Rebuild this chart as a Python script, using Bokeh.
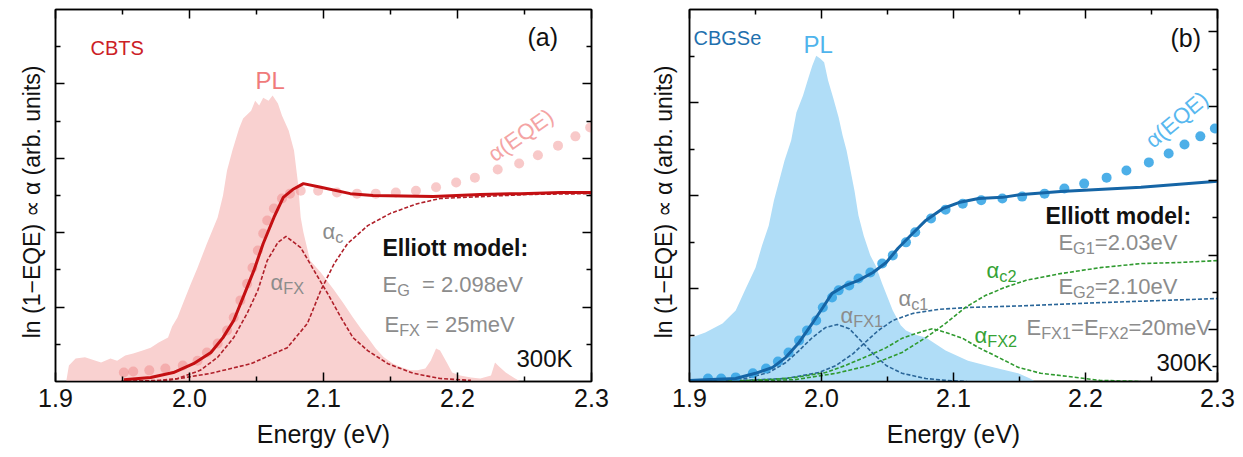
import math
from bokeh.plotting import figure
from bokeh.layouts import row
from bokeh.models import Range1d, LinearAxis, FixedTicker, PrintfTickFormatter, Label, Grid
from bokeh.embed import file_html
from bokeh.resources import INLINE

# ---------------- data: panel (a) CBTS ----------------
pl_a_E = [1.908, 1.910, 1.915, 1.922, 1.934, 1.941, 1.946, 1.952, 1.958, 1.965,
          1.971, 1.977, 1.984, 1.987, 1.991, 1.996, 2.001, 2.006, 2.013, 2.017,
          2.021, 2.025, 2.028, 2.032, 2.037, 2.040, 2.046, 2.049, 2.052, 2.055,
          2.059, 2.062, 2.066, 2.069, 2.074, 2.078, 2.081, 2.083, 2.085, 2.090,
          2.098, 2.108, 2.115, 2.122, 2.128, 2.133, 2.139, 2.145, 2.152, 2.158,
          2.165, 2.170, 2.176, 2.180, 2.184, 2.187, 2.192, 2.196, 2.202, 2.210,
          2.217, 2.225, 2.228, 2.231, 2.236, 2.243, 2.247]
pl_a_I = [0.00, 0.43, 0.62, 0.65, 0.51, 0.62, 0.56, 0.70, 0.75, 0.83,
          0.91, 1.05, 1.18, 1.48, 1.72, 2.18, 2.63, 3.06, 3.71, 4.06,
          4.41, 5.00, 5.67, 6.21, 6.80, 7.07, 7.28, 7.55, 7.42, 7.63,
          7.55, 7.69, 7.47, 7.15, 6.75, 6.21, 5.32, 4.41, 4.01, 3.25,
          2.93, 2.45, 2.10, 1.72, 1.42, 1.18, 0.89, 0.65, 0.48, 0.38,
          0.30, 0.30, 0.35, 0.56, 0.89, 0.83, 0.51, 0.24, 0.16, 0.11,
          0.08, 0.16, 0.51, 0.40, 0.24, 0.08, 0.00]

eqe_a_E = [1.951, 1.958, 1.970, 1.982, 1.995, 2.006, 2.013, 2.021, 2.028, 2.033,
           2.038, 2.043, 2.047, 2.051, 2.055, 2.058, 2.063, 2.069, 2.075, 2.083,
           2.096, 2.110, 2.125, 2.139, 2.154, 2.169, 2.184, 2.199, 2.213, 2.230,
           2.246, 2.260, 2.275, 2.288, 2.299]
eqe_a_y = [0.24, 0.27, 0.30, 0.35, 0.43, 0.56, 0.78, 1.02, 1.37, 1.72,
           2.18, 2.63, 3.06, 3.52, 3.98, 4.33, 4.65, 4.92, 5.05, 5.13,
           5.13, 5.08, 5.05, 5.05, 5.08, 5.13, 5.22, 5.35, 5.48, 5.70,
           5.86, 6.08, 6.34, 6.59, 6.83]

fit_a_E = [1.951, 1.971, 1.988, 2.003, 2.016, 2.025, 2.033, 2.040, 2.048, 2.055,
           2.063, 2.070, 2.077, 2.085, 2.098, 2.120, 2.137, 2.182, 2.217, 2.247,
           2.277, 2.300]
fit_a_y = [0.05, 0.11, 0.24, 0.48, 0.78, 1.18, 1.64, 2.26, 2.98, 3.71,
           4.41, 4.95, 5.16, 5.32, 5.22, 5.05, 5.00, 4.97, 5.03, 5.05,
           5.08, 5.08]

fx_a_E = [1.949, 1.978, 1.991, 2.008, 2.021, 2.033, 2.043, 2.051, 2.058, 2.066,
          2.072, 2.083, 2.093, 2.103, 2.113, 2.122, 2.133, 2.148, 2.167, 2.187,
          2.210]
fx_a_y = [0.00, 0.03, 0.08, 0.30, 0.65, 1.18, 1.83, 2.45, 3.25, 3.74,
          3.90, 3.60, 2.98, 2.37, 1.72, 1.18, 0.83, 0.48, 0.22, 0.08,
          0.03]

c_a_E = [1.949, 1.984, 2.016, 2.046, 2.073, 2.088, 2.098, 2.108, 2.118, 2.133,
         2.150, 2.170, 2.187, 2.217, 2.255, 2.300]
c_a_y = [0.00, 0.03, 0.22, 0.48, 0.91, 1.56, 2.45, 3.17, 3.71, 4.19,
         4.52, 4.78, 4.92, 4.97, 5.03, 5.05]

# ---------------- data: panel (b) CBGSe ----------------
pl_b_E = [1.900, 1.912, 1.925, 1.935, 1.942, 1.950, 1.955, 1.960, 1.964, 1.968,
          1.972, 1.977, 1.981, 1.986, 1.990, 1.993, 1.996, 1.999, 2.002, 2.005,
          2.009, 2.013, 2.016, 2.019, 2.022, 2.025, 2.028, 2.032, 2.037, 2.041,
          2.046, 2.054, 2.060, 2.064, 2.071, 2.079, 2.094, 2.111, 2.130, 2.149,
          2.158, 2.162]
pl_b_I = [1.16, 1.32, 1.56, 1.91, 2.45, 3.06, 3.66, 4.19, 4.87, 5.40,
          5.94, 6.48, 7.23, 7.69, 8.15, 8.49, 8.76, 8.68, 8.58, 8.09,
          7.61, 7.10, 6.61, 6.21, 5.67, 5.13, 4.46, 3.92, 3.39, 3.12,
          2.63, 1.91, 1.51, 1.37, 1.26, 1.18, 0.83, 0.56, 0.38, 0.22,
          0.08, 0.00]

eqe_b_E = [1.914, 1.924, 1.935, 1.948, 1.958, 1.967, 1.975, 1.983, 1.989, 1.996,
           2.001, 2.008, 2.013, 2.021, 2.028, 2.037, 2.046, 2.054, 2.064, 2.071,
           2.083, 2.094, 2.107, 2.121, 2.137, 2.152, 2.169, 2.184, 2.199, 2.216,
           2.231, 2.248, 2.263, 2.275, 2.287, 2.298]
eqe_b_y = [0.08, 0.08, 0.11, 0.22, 0.35, 0.54, 0.78, 1.10, 1.37, 1.64,
           1.99, 2.26, 2.45, 2.58, 2.77, 2.93, 3.17, 3.39, 3.74, 4.01,
           4.38, 4.62, 4.78, 4.87, 4.92, 4.97, 5.05, 5.19, 5.32, 5.48,
           5.67, 5.89, 6.13, 6.37, 6.59, 6.80]

fit_b_E = [1.900, 1.912, 1.935, 1.950, 1.963, 1.973, 1.983, 1.993, 2.001, 2.008,
           2.018, 2.028, 2.039, 2.049, 2.058, 2.069, 2.079, 2.092, 2.104, 2.119,
           2.137, 2.152, 2.181, 2.242, 2.300]
fit_b_y = [0.03, 0.05, 0.08, 0.22, 0.38, 0.65, 1.05, 1.56, 1.99, 2.37,
           2.58, 2.72, 2.93, 3.20, 3.58, 3.98, 4.33, 4.65, 4.81, 4.92,
           4.95, 5.03, 5.11, 5.22, 5.38]

fx1_b_E = [1.900, 1.922, 1.942, 1.960, 1.973, 1.983, 1.993, 2.003, 2.012, 2.021,
           2.031, 2.039, 2.049, 2.061, 2.079, 2.094, 2.110]
fx1_b_y = [0.00, 0.03, 0.08, 0.24, 0.51, 0.83, 1.18, 1.45, 1.53, 1.42,
           1.05, 0.75, 0.43, 0.22, 0.08, 0.03, 0.00]

c1_b_E = [1.900, 1.939, 1.973, 1.998, 2.011, 2.024, 2.033, 2.043, 2.054, 2.069,
          2.089, 2.111, 2.149, 2.211, 2.300]
c1_b_y = [0.00, 0.03, 0.08, 0.24, 0.43, 0.75, 1.05, 1.37, 1.64, 1.83,
          1.94, 1.99, 2.03, 2.12, 2.23]

fx2_b_E = [1.920, 1.960, 1.980, 2.003, 2.018, 2.036, 2.049, 2.061, 2.074, 2.084,
           2.094, 2.107, 2.119, 2.134, 2.149, 2.166, 2.181, 2.211, 2.242]
fx2_b_y = [0.00, 0.05, 0.11, 0.24, 0.43, 0.70, 0.91, 1.16, 1.32, 1.42,
           1.32, 1.16, 0.91, 0.65, 0.38, 0.22, 0.16, 0.03, 0.00]

c2_b_E = [1.930, 1.980, 2.011, 2.036, 2.061, 2.079, 2.094, 2.109, 2.124, 2.139,
          2.155, 2.181, 2.211, 2.242, 2.272, 2.300]
c2_b_y = [0.00, 0.05, 0.22, 0.43, 0.78, 1.18, 1.56, 1.99, 2.31, 2.53,
          2.72, 2.90, 3.06, 3.17, 3.20, 3.25]

# axis ticks and titles
x_major = [1.9, 2.0, 2.1, 2.2, 2.3]
x_minor = [1.95, 2.05, 2.15, 2.25]
ya_major = [2, 4, 6, 8]
ya_minor = [1, 3, 5, 7, 9]
yb_major = [2.5, 5.0, 7.5]
yb_minor = [1.25, 3.75, 6.25, 8.75]
yb_right_major = [1.4, 3.4, 5.4, 7.4, 9.4]
yb_right_minor = [0.4, 2.4, 4.4, 6.4, 8.4]
x_title = "Energy (eV)"
y_title = "ln (1−EQE)  ∝  α (arb. units)"

FONT = "Liberation Sans"
NB = "\u00a0"
CW = {' ': .278, NB: .278, '(': .333, ')': .333, '.': .278, '=': .584, ':': .278, '−': .584,
      'a': .556, 'b': .556, 'c': .5, 'd': .556, 'e': .556, 'i': .222, 'l': .222,
      'm': .833, 'n': .556, 'o': .556, 'r': .333, 's': .5, 't': .278, 'u': .556,
      'E': .667, 'F': .611, 'G': .778, 'K': .667, 'Q': .778, 'V': .667, 'X': .667,
      'α': .58}
RAISE = 9  # px


def tw(s, size):
    return sum(CW.get(ch, 0.556) for ch in s) * size


def add_label(p, x, y, text, size, color, style="normal", angle=0.0,
              align="left", baseline="alphabetic", dx=0.0, dy=0.0):
    p.add_layout(Label(x=x, y=y, x_offset=dx, y_offset=dy + RAISE, text=text,
                       text_font=FONT, text_font_size=f"{size}px",
                       text_font_style=style, text_color=color,
                       text_align=align, text_baseline=baseline, angle=angle))


def add_rich(p, x, y, parts, size, color):
    off = 0.0
    for txt, sub in parts:
        fs = round(size * 0.74, 1) if sub else size
        add_label(p, x, y, txt, fs, color, dx=off, dy=(-size * 0.25 if sub else 0))
        off += tw(txt, fs)


def style_axis(ax, show_labels):
    ax.axis_line_width = 1.5
    ax.axis_line_color = "black"
    ax.major_tick_in = 9
    ax.major_tick_out = 0
    ax.minor_tick_in = 5
    ax.minor_tick_out = 0
    ax.major_tick_line_width = 1.5
    ax.minor_tick_line_width = 1.5
    ax.major_tick_line_color = "black"
    ax.minor_tick_line_color = "black"
    if show_labels:
        ax.major_label_text_font = FONT
        ax.major_label_text_font_size = "25px"
        ax.major_label_text_color = "#111111"
        ax.major_label_standoff = 7
    else:
        ax.major_label_text_color = None
        ax.major_label_text_font_size = "0px"
        ax.major_label_standoff = 0
    ax.axis_label_text_font = FONT
    ax.axis_label_text_font_style = "normal"
    ax.axis_label_text_color = "#111111"


def make_panel(width, left, right, yl_major, yl_minor, yr_major, yr_minor, ylab_standoff):
    p = figure(width=width, height=457, x_range=Range1d(1.9, 2.3), y_range=Range1d(0, 10),
               output_backend="svg", toolbar_location=None,
               x_axis_location=None, y_axis_location=None,
               min_border_left=left, min_border_right=right,
               min_border_top=9, min_border_bottom=76)
    for r in list(p.center):
        if isinstance(r, Grid):
            r.visible = False
    p.outline_line_color = "black"
    p.outline_line_width = 1.5
    p.background_fill_color = "white"
    p.border_fill_color = "white"
    xb = LinearAxis(ticker=FixedTicker(ticks=x_major, minor_ticks=x_minor),
                    formatter=PrintfTickFormatter(format="%.1f"))
    style_axis(xb, True)
    xb.axis_label = x_title
    xb.axis_label_text_font_size = "25px"
    xb.axis_label_standoff = 10
    p.add_layout(xb, "below")
    xt = LinearAxis(ticker=FixedTicker(ticks=x_major, minor_ticks=x_minor))
    style_axis(xt, False)
    p.add_layout(xt, "above")
    yl = LinearAxis(ticker=FixedTicker(ticks=yl_major, minor_ticks=yl_minor))
    style_axis(yl, False)
    yl.axis_label = y_title
    yl.axis_label_text_font_size = "23px"
    yl.axis_label_standoff = ylab_standoff
    p.add_layout(yl, "left")
    yr = LinearAxis(ticker=FixedTicker(ticks=yr_major, minor_ticks=yr_minor))
    style_axis(yr, False)
    p.add_layout(yr, "right")
    return p


GRAY = "#8c8c8c"

# ---------------- panel (a) ----------------
pa = make_panel(621, 55, 30, ya_major, ya_minor, ya_major, ya_minor, 11)
pa.varea(x=pl_a_E, y1=0, y2=pl_a_I, fill_color="#f9d1d0")
pa.scatter(eqe_a_E, eqe_a_y, size=10, fill_color="#ee7777", fill_alpha=0.4, line_color=None)
pa.line(fx_a_E, fx_a_y, line_color="#b0202a", line_width=1.6, line_dash="4 2")
pa.line(c_a_E, c_a_y, line_color="#b0202a", line_width=1.6, line_dash="4 2")
pa.line(fit_a_E, fit_a_y, line_color="#c40f12", line_width=3)

add_label(pa, 1.9261, 8.71, "CBTS", 20, "#cc2026")
add_label(pa, 2.2522, 9.01, "(a)", 25, "#111111")
add_label(pa, 2.0493, 7.85, "PL", 24, "#f07b7b")
add_label(pa, 2.2246, 5.81, "α(EQE)", 22, "#f4a4a4", angle=math.radians(35))
add_rich(pa, 2.0993, 3.79, [("α", 0), ("c", 1)], 22, GRAY)
add_rich(pa, 2.0604, 2.42, [("α", 0), ("FX", 1)], 22, GRAY)
add_label(pa, 2.144, 3.36, "Elliott model:", 23, "#111111", style="bold")
add_rich(pa, 2.144, 2.37, [("E", 0), ("G", 1), (NB + NB + "= 2.098eV", 0)], 22, GRAY)
add_rich(pa, 2.1455, 1.29, [("E", 0), ("FX", 1), (NB + "= 25meV", 0)], 22, GRAY)
add_label(pa, 2.244, 0.376, "300K", 24, "#111111")

# ---------------- panel (b) ----------------
pb = make_panel(622, 68, 26, yb_major, yb_minor, yb_right_major, yb_right_minor, 13)
pb.varea(x=pl_b_E, y1=0, y2=pl_b_I, fill_color="#b0ddf7")
pb.line(fx1_b_E, fx1_b_y, line_color="#2a6699", line_width=1.6, line_dash="4 2")
pb.line(c1_b_E, c1_b_y, line_color="#2a6699", line_width=1.6, line_dash="4 2")
pb.line(fx2_b_E, fx2_b_y, line_color="#2f9a2f", line_width=1.6, line_dash="4 2")
pb.line(c2_b_E, c2_b_y, line_color="#2f9a2f", line_width=1.6, line_dash="4 2")
pb.scatter(eqe_b_E, eqe_b_y, size=10, fill_color="#3aa6e6", fill_alpha=0.9, line_color=None)
pb.line(fit_b_E, fit_b_y, line_color="#1565a6", line_width=3)

add_label(pb, 1.903, 8.98, "CBGSe", 20, "#1f70ae")
add_label(pb, 2.2644, 8.98, "(b)", 25, "#111111")
add_label(pb, 1.9864, 8.82, "PL", 24, "#4fb4ec")
add_label(pb, 2.2477, 6.16, "α(EQE)", 22, "#58b8ef", angle=math.radians(40))
add_label(pb, 2.1697, 4.22, "Elliott model:", 23, "#111111", style="bold")
add_rich(pb, 2.1795, 3.49, [("E", 0), ("G1", 1), ("=2.03eV", 0)], 22, GRAY)
add_rich(pb, 2.125, 2.74, [("α", 0), ("c2", 1)], 22, "#36a336")
add_rich(pb, 2.1795, 2.31, [("E", 0), ("G2", 1), ("=2.10eV", 0)], 22, GRAY)
add_rich(pb, 2.0583, 1.99, [("α", 0), ("c1", 1)], 22, GRAY)
add_rich(pb, 2.0144, 1.53, [("α", 0), ("FX1", 1)], 22, GRAY)
add_rich(pb, 2.1553, 1.21, [("E", 0), ("FX1", 1), ("=E", 0), ("FX2", 1), ("=20meV", 0)], 22, GRAY)
add_rich(pb, 2.1159, 0.99, [("α", 0), ("FX2", 1)], 22, "#36a336")
add_label(pb, 2.2538, 0.27, "300K", 24, "#111111")

layout = row(pa, pb)
open("out.html", "w").write(file_html(layout, INLINE))
